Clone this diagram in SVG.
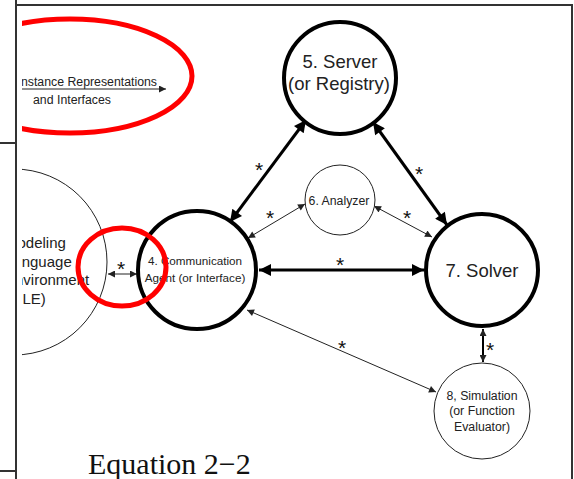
<svg xmlns="http://www.w3.org/2000/svg" width="574" height="479" viewBox="0 0 574 479">
<style>
.frame{stroke:#333;stroke-width:2;fill:none}
.thick{fill:#fff;stroke:#000;stroke-width:4}
.thin{fill:#fff;stroke:#222;stroke-width:1}
.t{font-family:"Liberation Sans",Arial,sans-serif;fill:#222;text-anchor:middle}
.star{font-family:"Liberation Sans",Arial,sans-serif;fill:#111;font-size:21px;text-anchor:middle}
.c3{stroke:#000;stroke-width:3;fill:none}
.c1{stroke:#222;stroke-width:1;fill:none}
.red{fill:none;stroke:#f00;stroke-width:5}
</style>
<defs>
<clipPath id="clip"><rect x="22" y="6" width="549" height="473"/></clipPath>
<marker id="ab" viewBox="0 0 10 10" refX="10" refY="5" markerWidth="14" markerHeight="12" markerUnits="userSpaceOnUse" orient="auto-start-reverse"><path d="M0,0 L10,5 L0,10 Z" fill="#000"/></marker>
<marker id="as" viewBox="0 0 10 10" refX="10" refY="5" markerWidth="9" markerHeight="7" markerUnits="userSpaceOnUse" orient="auto-start-reverse"><path d="M0,0 L10,5 L0,10 Z" fill="#222"/></marker>
</defs>
<rect width="574" height="479" fill="#fff"/>
<g id="frame">
<line class="frame" x1="16" y1="0" x2="16" y2="479"/>
<line class="frame" x1="0" y1="143" x2="16" y2="143"/>
<line class="frame" x1="0" y1="471" x2="16" y2="471"/>
<line class="frame" x1="16" y1="5" x2="573" y2="5"/>
<line class="frame" x1="572" y1="5" x2="572" y2="479"/>
</g>
<g clip-path="url(#clip)">
<g id="instance">
<line class="c1" x1="0" y1="89" x2="166" y2="89" marker-end="url(#as)"/>
<text class="t" x="157" y="86" font-size="12.3" style="text-anchor:end">Instance Representations</text>
<text class="t" x="72" y="104" font-size="12.3">and Interfaces</text>
</g>
<g id="mle">
<circle class="thin" cx="14" cy="262" r="93"/>
<text class="t" x="5" y="248" font-size="15" style="text-anchor:start">Modeling</text>
<text class="t" x="5" y="267" font-size="15" style="text-anchor:start">Language</text>
<text class="t" x="5" y="285" font-size="15" style="text-anchor:start">Environment</text>
<text class="t" x="5" y="304" font-size="15" style="text-anchor:start">(MLE)</text>
</g>
<g id="connectors">
<line class="c3" x1="259" y1="270" x2="424" y2="270" marker-start="url(#ab)" marker-end="url(#ab)"/>
<line class="c3" x1="230" y1="222" x2="306" y2="120" marker-start="url(#ab)" marker-end="url(#ab)"/>
<line class="c3" x1="373" y1="122" x2="447" y2="225" marker-start="url(#ab)" marker-end="url(#ab)"/>
<line class="c1" x1="248" y1="238" x2="305" y2="204" marker-start="url(#as)" marker-end="url(#as)"/>
<line class="c1" x1="374" y1="206" x2="432" y2="237" marker-start="url(#as)" marker-end="url(#as)"/>
<line class="c1" x1="247" y1="310" x2="436" y2="392" marker-start="url(#as)" marker-end="url(#as)"/>
<line stroke="#000" stroke-width="2" x1="483" y1="329" x2="483" y2="362" marker-start="url(#as)" marker-end="url(#as)"/>
<line class="c1" x1="108" y1="274" x2="137" y2="274" marker-start="url(#as)" marker-end="url(#as)"/>
<text class="star" x="340" y="272">*</text>
<text class="star" x="259" y="177">*</text>
<text class="star" x="419" y="181">*</text>
<text class="star" x="270" y="225">*</text>
<text class="star" x="407" y="225">*</text>
<text class="star" x="342" y="355">*</text>
<text class="star" x="490" y="357">*</text>
<text class="star" x="121" y="276">*</text>
</g>
<g id="n5">
<circle class="thick" cx="340" cy="78" r="56"/>
<text class="t" x="340" y="68" font-size="18.5">5. Server</text>
<text class="t" x="339" y="90" font-size="18.5">(or Registry)</text>
</g>
<g id="n6">
<circle class="thin" cx="340" cy="200" r="35"/>
<text class="t" x="339" y="205" font-size="12.3">6. Analyzer</text>
</g>
<g id="n4">
<circle class="thick" cx="197" cy="270" r="59"/>
<text class="t" x="195" y="265" font-size="11.7">4. Communication</text>
<text class="t" x="195" y="282" font-size="11.7">Agent (or Interface)</text>
</g>
<g id="n7">
<circle class="thick" cx="482" cy="270" r="56"/>
<text class="t" x="482" y="277" font-size="18.5">7. Solver</text>
</g>
<g id="n8">
<circle class="thin" cx="482" cy="411" r="48"/>
<text class="t" x="482" y="400" font-size="12.3">8, Simulation</text>
<text class="t" x="482" y="415" font-size="12.3">(or Function</text>
<text class="t" x="482" y="431" font-size="12.3">Evaluator)</text>
</g>
<g id="highlights">
<ellipse class="red" cx="70" cy="76" rx="122" ry="57"/>
<ellipse class="red" cx="122" cy="267" rx="44" ry="39"/>
</g>
<text x="88" y="474" font-family="'Liberation Serif','Times New Roman',serif" font-size="30" fill="#111">Equation 2−2</text>
</g>
</svg>
